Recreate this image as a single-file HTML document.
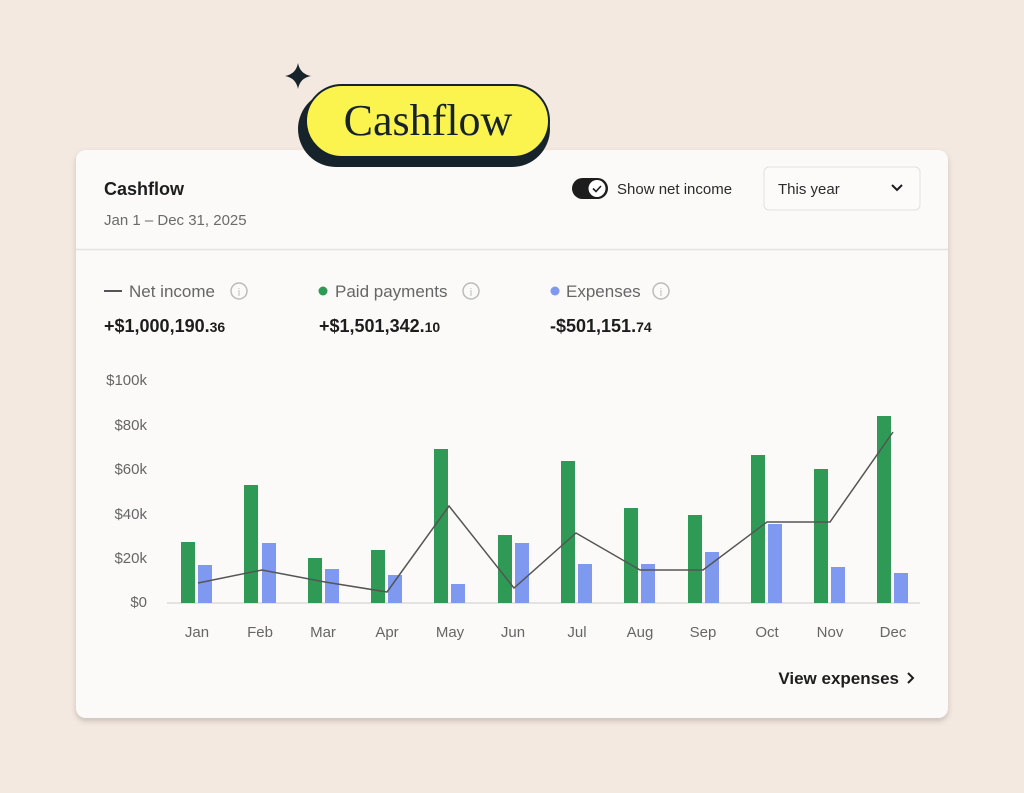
<!DOCTYPE html>
<html><head><style>
body{margin:0;width:1024px;height:793px;background:#f4e9e0;overflow:hidden}
svg{display:block}
text{font-family:"Liberation Sans",sans-serif}
</style></head><body>
<svg width="1024" height="793" viewBox="0 0 1024 793">
<defs><filter id="sh" x="-5%" y="-5%" width="110%" height="115%"><feDropShadow dx="0" dy="3" stdDeviation="3" flood-color="#000" flood-opacity="0.18"/></filter></defs>
<rect x="76" y="150" width="872" height="568" rx="10" fill="#fbfaf8" filter="url(#sh)"/>
<line x1="76" y1="249.5" x2="948" y2="249.5" stroke="#e6e3df" stroke-width="1.5"/>
<!-- pill -->
<rect x="298" y="91" width="252" height="76" rx="38" fill="#17232a"/>
<rect x="306" y="85" width="243" height="72" rx="36" fill="#fbf44e" stroke="#17232a" stroke-width="2"/>
<text x="428" y="135" text-anchor="middle" font-size="44" fill="#17232a" style="font-family:'Liberation Serif',serif">Cashflow</text>
<path d="M298 63 Q300 74 311 76 Q300 78 298 89 Q296 78 285 76 Q296 74 298 63Z" fill="#17232a"/>
<!-- header -->
<text x="104" y="195" font-size="18" font-weight="bold" fill="#1d1d1d">Cashflow</text>
<text x="104" y="225" font-size="15" fill="#6b6b6b">Jan 1 – Dec 31, 2025</text>
<rect x="572" y="178" width="36" height="21" rx="10.5" fill="#1d1d1d"/>
<circle cx="597" cy="188.5" r="8.5" fill="#fff"/>
<path d="M593 188.5l3 3 5-5.5" stroke="#1d1d1d" stroke-width="1.6" fill="none"/>
<text x="617" y="194" font-size="15" fill="#2b2b2b">Show net income</text>
<rect x="764" y="167" width="156" height="43" rx="5" fill="#fcfbfa" stroke="#e4e1dd"/>
<text x="778" y="194" font-size="15" fill="#2b2b2b">This year</text>
<path d="M892 185l5 5 5-5" stroke="#1d1d1d" stroke-width="2" fill="none"/>
<!-- legend -->
<line x1="104" y1="291" x2="122" y2="291" stroke="#555" stroke-width="2"/>
<text x="129" y="297" font-size="17" fill="#666">Net income</text>
<circle cx="239" cy="291" r="8" fill="none" stroke="#bbb" stroke-width="1.5"/><text x="239" y="296" font-size="11" text-anchor="middle" fill="#bbb">i</text>
<circle cx="323" cy="291" r="4.5" fill="#2e9a55"/>
<text x="335" y="297" font-size="17" fill="#666">Paid payments</text>
<circle cx="471" cy="291" r="8" fill="none" stroke="#bbb" stroke-width="1.5"/><text x="471" y="296" font-size="11" text-anchor="middle" fill="#bbb">i</text>
<circle cx="555" cy="291" r="4.5" fill="#7f98f0"/>
<text x="566" y="297" font-size="17" fill="#666">Expenses</text>
<circle cx="661" cy="291" r="8" fill="none" stroke="#bbb" stroke-width="1.5"/><text x="661" y="296" font-size="11" text-anchor="middle" fill="#bbb">i</text>
<text x="104" y="332" font-size="18" font-weight="bold" fill="#1d1d1d">+$1,000,190.<tspan font-size="14">36</tspan></text>
<text x="319" y="332" font-size="18" font-weight="bold" fill="#1d1d1d">+$1,501,342.<tspan font-size="14">10</tspan></text>
<text x="550" y="332" font-size="18" font-weight="bold" fill="#1d1d1d">-$501,151.<tspan font-size="14">74</tspan></text>
<!-- y axis -->
<g font-size="15" fill="#666" text-anchor="end">
<text x="147" y="385">$100k</text><text x="147" y="430">$80k</text><text x="147" y="474">$60k</text>
<text x="147" y="519">$40k</text><text x="147" y="563">$20k</text><text x="147" y="607">$0</text>
</g>
<line x1="167" y1="603" x2="920" y2="603" stroke="#dedbd7" stroke-width="1.5"/>
<!-- bars -->
<g fill="#2e9a55">
<rect x="181" y="542" width="14" height="61"/><rect x="244" y="485" width="14" height="118"/>
<rect x="308" y="558" width="14" height="45"/><rect x="371" y="550" width="14" height="53"/>
<rect x="434" y="449" width="14" height="154"/><rect x="498" y="535" width="14" height="68"/>
<rect x="561" y="461" width="14" height="142"/><rect x="624" y="508" width="14" height="95"/>
<rect x="688" y="515" width="14" height="88"/><rect x="751" y="455" width="14" height="148"/>
<rect x="814" y="469" width="14" height="134"/><rect x="877" y="416" width="14" height="187"/>
</g>
<g fill="#7f98f0">
<rect x="198" y="565" width="14" height="38"/><rect x="262" y="543" width="14" height="60"/>
<rect x="325" y="569" width="14" height="34"/><rect x="388" y="575" width="14" height="28"/>
<rect x="451" y="584" width="14" height="19"/><rect x="515" y="543" width="14" height="60"/>
<rect x="578" y="564" width="14" height="39"/><rect x="641" y="564" width="14" height="39"/>
<rect x="705" y="552" width="14" height="51"/><rect x="768" y="524" width="14" height="79"/>
<rect x="831" y="567" width="14" height="36"/><rect x="894" y="573" width="14" height="30"/>
</g>
<polyline points="198,583 262,570 325,582 387,592 449,506 514,588 576,533 640,570 703,570 767,522 830,522 893,432" fill="none" stroke="#555" stroke-width="1.5"/>
<!-- months -->
<g font-size="15" fill="#666" text-anchor="middle">
<text x="197" y="637">Jan</text><text x="260" y="637">Feb</text><text x="323" y="637">Mar</text>
<text x="387" y="637">Apr</text><text x="450" y="637">May</text><text x="513" y="637">Jun</text>
<text x="577" y="637">Jul</text><text x="640" y="637">Aug</text><text x="703" y="637">Sep</text>
<text x="767" y="637">Oct</text><text x="830" y="637">Nov</text><text x="893" y="637">Dec</text>
</g>
<text x="899" y="684" font-size="17" font-weight="bold" fill="#1d1d1d" text-anchor="end">View expenses</text>
<path d="M908 673l5 5-5 5" stroke="#1d1d1d" stroke-width="2" fill="none"/>
</svg>
</body></html>
